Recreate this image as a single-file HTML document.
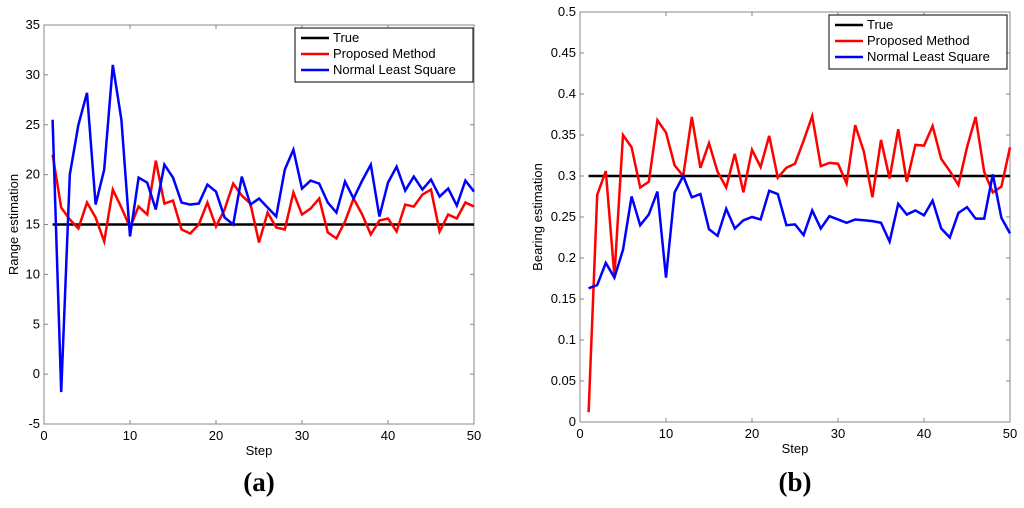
<!DOCTYPE html><html><head><meta charset="utf-8"><style>
body{margin:0;background:#fff;width:1024px;height:503px;overflow:hidden}
svg text{font-family:"Liberation Sans",sans-serif;font-size:13px;fill:#000}
</style></head><body>
<svg id="s" width="1024" height="503"></svg>
<script>
const steps=Array.from({length:50},(_,i)=>i+1);
const rangeTrue=15;
const rangeProposed=[22,16.7,15.5,14.6,17.2,15.7,13.3,18.5,16.7,14.7,16.8,16,21.4,17.1,17.4,14.5,14.1,15,17.2,14.8,16.5,19.1,17.9,17.1,13.2,16.2,14.7,14.5,18.2,16,16.6,17.6,14.2,13.6,15.3,17.6,16,14,15.4,15.6,14.3,17,16.8,18,18.5,14.3,16,15.6,17.2,16.8];
const rangeNLS=[25.5,-1.8,20,25,28.2,17,20.5,31,25.5,13.8,19.7,19.2,16.5,21,19.7,17.2,17,17.1,19,18.3,15.7,15,19.8,17,17.6,16.7,15.8,20.5,22.5,18.6,19.4,19.1,17.2,16.2,19.3,17.6,19.4,21,15.8,19.2,20.8,18.4,19.8,18.5,19.5,17.8,18.6,16.9,19.4,18.3];
const bearTrue=0.3;
const bearProposed=[0.012,0.277,0.306,0.178,0.35,0.335,0.286,0.293,0.368,0.353,0.313,0.3,0.372,0.31,0.34,0.305,0.286,0.327,0.28,0.332,0.311,0.349,0.298,0.31,0.315,0.343,0.373,0.312,0.316,0.315,0.291,0.362,0.33,0.274,0.344,0.297,0.357,0.293,0.338,0.337,0.361,0.321,0.306,0.289,0.335,0.372,0.305,0.28,0.287,0.335];
const bearNLS=[0.163,0.167,0.194,0.176,0.21,0.275,0.24,0.253,0.281,0.176,0.28,0.3,0.274,0.278,0.235,0.227,0.26,0.236,0.246,0.25,0.247,0.282,0.278,0.24,0.241,0.228,0.258,0.236,0.251,0.247,0.243,0.247,0.246,0.245,0.243,0.22,0.266,0.253,0.258,0.252,0.27,0.236,0.225,0.255,0.262,0.248,0.248,0.302,0.249,0.23];
const xTicks=[0,10,20,30,40,50];
const rangeTicks=[-5,0,5,10,15,20,25,30,35];
const bearTicks=[0,0.05,0.1,0.15,0.2,0.25,0.3,0.35,0.4,0.45,0.5];
const legendLabels=["True","Proposed Method","Normal Least Square"];
const NS="http://www.w3.org/2000/svg",svg=document.getElementById('s');
function el(t,a,p){const e=document.createElementNS(NS,t);for(const k in a)e.setAttribute(k,a[k]);(p||svg).appendChild(e);return e;}
function panel(o){
 const g=el('g',{});
 
 
 const X=v=>o.x0+(v-0)/50*(o.x1-o.x0);
 const Y=v=>o.y0-(v-o.ymin)/(o.ymax-o.ymin)*(o.y0-o.y1);
 const box=el('rect',{x:o.x0,y:o.y1,width:o.x1-o.x0,height:o.y0-o.y1,fill:'none',stroke:'#888','stroke-width':1},g);
 
 xTicks.forEach(t=>{const x=X(t);
  el('line',{x1:x,x2:x,y1:o.y0,y2:o.y0-4,stroke:'#888'},g);el('line',{x1:x,x2:x,y1:o.y1,y2:o.y1+4,stroke:'#888'},g);
  const tx=el('text',{x:x,y:o.y0+16,'text-anchor':'middle'},g);tx.textContent=t;
  });
 o.ticks.forEach(t=>{const y=Y(t);
  el('line',{x1:o.x0,x2:o.x0+4,y1:y,y2:y,stroke:'#888'},g);el('line',{x1:o.x1,x2:o.x1-4,y1:y,y2:y,stroke:'#888'},g);
  const tx=el('text',{x:o.x0-4,y:y+4,'text-anchor':'end'},g);tx.textContent=t;
  });
 const tl=el('line',{x1:X(1),x2:X(50),y1:Y(o.tru),y2:Y(o.tru),stroke:'#000','stroke-width':2.5},g);
 
 [[o.red,'#f00','proposed-method-line'],[o.blue,'#00f','normal-least-square-line']].forEach(([d,c,n])=>{
  const p=el('polyline',{points:d.map((v,i)=>X(steps[i])+','+Y(v)).join(' '),fill:'none',stroke:c,'stroke-width':2.5,'stroke-linejoin':'miter'},g);
  });
 const xl=el('text',{x:(o.x0+o.x1)/2,y:o.y0+31,'text-anchor':'middle'},g);xl.textContent='Step';
 
 const yl=el('text',{x:0,y:0,'text-anchor':'middle',transform:`translate(${o.ylx},${(o.y0+o.y1)/2}) rotate(-90)`},g);yl.textContent=o.ylab;
 
 const lg=el('g',{},g);
 el('rect',{x:o.lx,y:o.ly,width:178,height:54,fill:'#fff',stroke:'#000','stroke-width':1},lg);
 ['#000','#f00','#00f'].forEach((c,i)=>{const yy=o.ly+10+i*16;
  el('line',{x1:o.lx+6,x2:o.lx+34,y1:yy,y2:yy,stroke:c,'stroke-width':2.5},lg);
  const t=el('text',{x:o.lx+38,y:yy+4},lg);t.textContent=legendLabels[i];
  });
 const cap=el('text',{x:(o.x0+o.x1)/2,y:491,'text-anchor':'middle',style:'font-family:"Liberation Serif",serif;font-size:27px;font-weight:bold'},g);
 cap.textContent=o.cap;
}
panel({name:'range-chart',x0:44,x1:474,y0:424,y1:25,ymin:-5,ymax:35,ticks:rangeTicks,tru:rangeTrue,red:rangeProposed,blue:rangeNLS,ylab:'Range estimation',ylx:18,lx:295,ly:28,cap:'(a)'});
panel({name:'bearing-chart',x0:580,x1:1010,y0:422,y1:12,ymin:0,ymax:0.5,ticks:bearTicks,tru:bearTrue,red:bearProposed,blue:bearNLS,ylab:'Bearing estimation',ylx:542,lx:829,ly:15,cap:'(b)'});
</script></body></html>
